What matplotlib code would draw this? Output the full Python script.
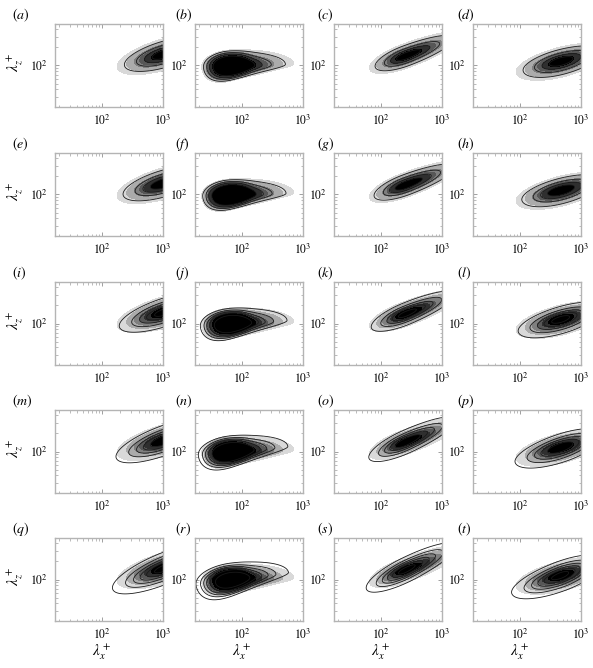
import numpy as np
import matplotlib
matplotlib.use('Agg')
import matplotlib.pyplot as plt
from matplotlib.ticker import FixedLocator, NullFormatter

plt.rcParams['mathtext.fontset'] = 'stix'
plt.rcParams['font.family'] = ['STIXGeneral', 'Liberation Serif', 'DejaVu Serif']

# ---------------- data ----------------
panel_labels = list('abcdefghijklmnopqrst')
x_ticks = [1e2, 1e3]
x_ticklabels = [r'$10^2$', r'$10^3$']
y_ticks = [1e2]
y_ticklabels = [r'$10^2$']
x_range = [10 ** 1.24, 10 ** 3.0]
y_range = [10 ** 1.31, 10 ** 2.69]
x_minor = [20, 30, 40, 50, 60, 70, 80, 90, 200, 300, 400, 500, 600, 700, 800, 900]
y_minor = [30, 40, 50, 60, 70, 80, 90, 200, 300, 400]

# shaded-spectrum blob per column (log10 lambda_x, log10 lambda_z)
col_u0 = [3.02, 1.85, 2.41, 2.67]
col_v0 = [2.19, 1.99, 2.16, 2.07]
col_tilt_deg = [17, 2, 21, 15]
col_left = [0.80, 0.50, 0.63, 0.75]
col_right = [0.90, 1.00, 1.00, 0.80]
col_up = [0.25, 0.27, 0.20, 0.23]
col_down = [0.26, 0.24, 0.20, 0.26]
col_down_taper = [0.0, 0.9, 0.0, 0.0]
col_p_left = [2.0, 6.0, 2.0, 2.0]
col_p_right = [2.0, 2.3, 2.0, 2.0]

# line-contour spectrum per row (relative to the shaded one)
row_line_amp = [0.85, 0.9, 1.0, 1.1, 1.2]
row_line_left = [1.00, 1.02, 1.10, 1.17, 1.25]
row_line_width = [1.00, 1.00, 1.03, 1.06, 1.10]
row_line_tilt = [0, 0, 2, 4, 6]
row_line_sharp = [1.0, 1.0, 0.85, 0.7, 0.6]

fill_levels = [0.05, 0.15, 0.30, 0.45, 0.60, 0.80, 1.10]
fill_colors = ['#d9d9d9', '#ababab', '#7f7f7f', '#575757', '#2f2f2f', '#000000']
line_levels = [0.10, 0.30, 0.50, 0.70, 0.90, 1.10]
label_x_px = [12, 175, 317, 457]

# ---------------- layout ----------------
W, H = 593, 668
col_left_px = [55, 195, 334, 473]
row_top_px = [24, 153, 282, 410, 538]
ax_w, ax_h = 108, 83

u = np.linspace(np.log10(x_range[0]), np.log10(x_range[1]), 300)
v = np.linspace(np.log10(y_range[0]), np.log10(y_range[1]), 300)
U, V = np.meshgrid(u, v)


def blob(u0, v0, tilt, left, right, up, down, taper, pl, pr):
    t = np.deg2rad(tilt)
    a = (U - u0) * np.cos(t) + (V - v0) * np.sin(t)
    b = -(U - u0) * np.sin(t) + (V - v0) * np.cos(t)
    sa = np.where(a < 0, left, right)
    sb = np.where(b > 0, up, down * np.exp(-taper * a))
    rho = np.sqrt((a / sa) ** 2 + (b / sb) ** 2)
    p = pr + (pl - pr) / (1 + np.exp(np.clip((a - 0.2) / 0.08, -50, 50)))
    return 0.05 ** (rho ** p)


fig = plt.figure(figsize=(W / 100, H / 100), dpi=100)
for r in range(5):
    for c in range(4):
        k = r * 4 + c
        x0 = col_left_px[c] / W
        y0 = 1 - (row_top_px[r] + ax_h) / H
        ax = fig.add_axes([x0, y0, ax_w / W, ax_h / H])
        F = blob(col_u0[c], col_v0[c], col_tilt_deg[c], col_left[c], col_right[c],
                 col_up[c], col_down[c], col_down_taper[c],
                 col_p_left[c], col_p_right[c])
        pl_line = 2 + (col_p_left[c] - 2) * row_line_sharp[r]
        L = row_line_amp[r] * blob(col_u0[c], col_v0[c], col_tilt_deg[c] + row_line_tilt[r],
                                   col_left[c] * row_line_left[r], col_right[c],
                                   col_up[c] * row_line_width[r], col_down[c] * row_line_width[r],
                                   col_down_taper[c], pl_line, col_p_right[c])
        X, Y = 10 ** U, 10 ** V
        ax.contourf(X, Y, F, levels=fill_levels, colors=fill_colors)
        ax.contour(X, Y, L, levels=line_levels, colors='#1a1a1a', linewidths=0.6)
        ax.set_xscale('log')
        ax.set_yscale('log')
        ax.set_xlim(x_range)
        ax.set_ylim(y_range)
        ax.xaxis.set_major_locator(FixedLocator(x_ticks))
        ax.set_xticklabels(x_ticklabels)
        ax.yaxis.set_major_locator(FixedLocator(y_ticks))
        ax.set_yticklabels(y_ticklabels)
        ax.xaxis.set_minor_locator(FixedLocator(x_minor))
        ax.yaxis.set_minor_locator(FixedLocator(y_minor))
        ax.xaxis.set_minor_formatter(NullFormatter())
        ax.yaxis.set_minor_formatter(NullFormatter())
        ax.tick_params(which='both', direction='in', top=True, right=True,
                       color='#a0a0a0', labelsize=8.5, pad=5)
        ax.tick_params(which='major', length=3, width=0.7)
        ax.tick_params(which='minor', length=1.8, width=0.5)
        for s in ax.spines.values():
            s.set_color('#b4b4b4')
            s.set_linewidth(1.0)
        fig.text(label_x_px[c] / W, 1 - (row_top_px[r] - 9) / H,
                 '(' + r'$\it{' + panel_labels[k] + '}$' + ')',
                 fontsize=10, ha='left', va='center')
        if c == 0:
            fig.text(15 / W, 1 - (row_top_px[r] + 38) / H, r'$\lambda_z^+$',
                     rotation=90, fontsize=11, ha='center', va='center')
        if r == 4:
            fig.text((col_left_px[c] + 47) / W, 1 - 652 / H, r'$\lambda_x^+$',
                     fontsize=11, ha='center', va='center')

fig.savefig('out.png', dpi=100)
